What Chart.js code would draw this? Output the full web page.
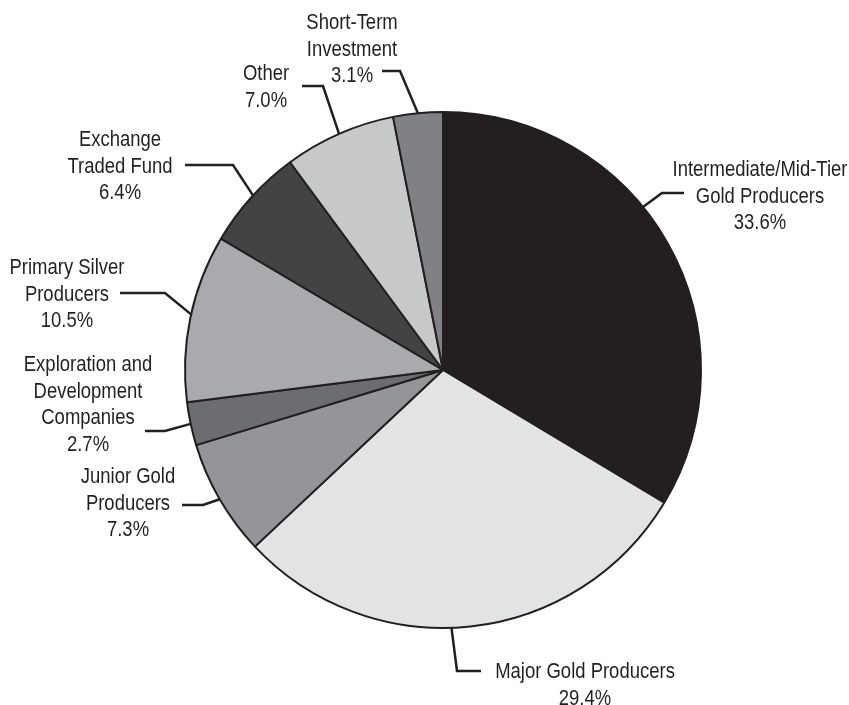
<!DOCTYPE html>
<html>
<head>
<meta charset="utf-8">
<script src="https://cdn.jsdelivr.net/npm/chart.js@4/dist/chart.umd.min.js"></script>
<style>
    html, body { margin: 0; padding: 0; background: #fff; }
    #wrap { width: 849px; height: 705px; position: relative; }
</style>
</head>
<body>
<div id="wrap"><canvas id="myChart" width="849" height="705"></canvas></div>
<script>
// chart data
var categories = [
    ['Intermediate/Mid-Tier', 'Gold Producers'],
    ['Major Gold Producers'],
    ['Junior Gold', 'Producers'],
    ['Exploration and', 'Development', 'Companies'],
    ['Primary Silver', 'Producers'],
    ['Exchange', 'Traded Fund'],
    ['Other'],
    ['Short-Term', 'Investment']
];
var percentages = [33.6, 29.4, 7.3, 2.7, 10.5, 6.4, 7.0, 3.1];
var sliceColors = ['#231f20', '#e2e3e4', '#949598', '#6c6d70', '#a9aaad', '#434244', '#c7c8ca', '#808184'];

// where each label sits and how its leader line bends
var labelLayout = [
    { x: 760, y: 170, ex: 662, ey: 193, hx: 684, frac: 0.42 },
    { x: 585, y: 672, ex: 457, ey: 671, hx: 481, frac: 0.54 },
    { x: 128, y: 477, ex: 203, ey: 505, hx: 182, frac: 0.5 },
    { x: 88,  y: 365, ex: 165, ey: 431, hx: 145, frac: 0.5 },
    { x: 67,  y: 268, ex: 165, ey: 293, hx: 120, frac: 0.52 },
    { x: 120, y: 140, ex: 233, ey: 165, hx: 185, frac: 0.52 },
    { x: 266, y: 74,  ex: 323, ey: 86,  hx: 302, frac: 0.5 },
    { x: 352, y: 23,  ex: 400, ey: 71,  hx: 382, frac: 0.5 }
];
var lineHeight = 26.5;
var inkColor = '#231f20';
var narrow = 0.84; // squeeze text to look like a condensed face

var leaderLabels = {
    id: 'leaderLabels',
    afterDraw(chart) {
        var ctx = chart.ctx;
        var arcs = chart.getDatasetMeta(0).data;
        ctx.save();
        ctx.strokeStyle = inkColor;
        ctx.lineWidth = 2.5;
        ctx.lineJoin = 'miter';
        arcs.forEach((arc, i) => {
            var p = arc.getProps(['x', 'y', 'startAngle', 'endAngle', 'outerRadius'], true);
            var lay = labelLayout[i];
            var a = p.startAngle + (p.endAngle - p.startAngle) * lay.frac;
            var r = p.outerRadius;
            ctx.beginPath();
            ctx.moveTo(p.x + Math.cos(a) * r, p.y + Math.sin(a) * r);
            ctx.lineTo(lay.ex, lay.ey);
            ctx.lineTo(lay.hx, lay.ey);
            ctx.stroke();
        });
        ctx.fillStyle = inkColor;
        ctx.font = '22px "Liberation Sans", Arial, sans-serif';
        ctx.textAlign = 'center';
        ctx.textBaseline = 'middle';
        categories.forEach((lines, i) => {
            var lay = labelLayout[i];
            var all = lines.concat([percentages[i].toFixed(1) + '%']);
            all.forEach((t, j) => {
                ctx.save();
                ctx.translate(lay.x, lay.y + j * lineHeight);
                ctx.scale(narrow, 1);
                ctx.fillText(t, 0, 0);
                ctx.restore();
            });
        });
        ctx.restore();
    }
};

var ctx = document.getElementById('myChart').getContext('2d');
var myChartObj = new Chart(ctx, {
    type: 'pie',
    data: {
        labels: categories,
        datasets: [{
            data: percentages,
            backgroundColor: sliceColors,
            borderColor: inkColor,
            borderWidth: 2,
            hoverOffset: 0
        }]
    },
    options: {
        responsive: false,
        animation: false,
        layout: { padding: { top: 111, bottom: 76, left: 184, right: 147 } },
        plugins: {
            legend: { display: false },
            tooltip: { enabled: false }
        }
    },
    plugins: [leaderLabels]
});
</script>
</body>
</html>
